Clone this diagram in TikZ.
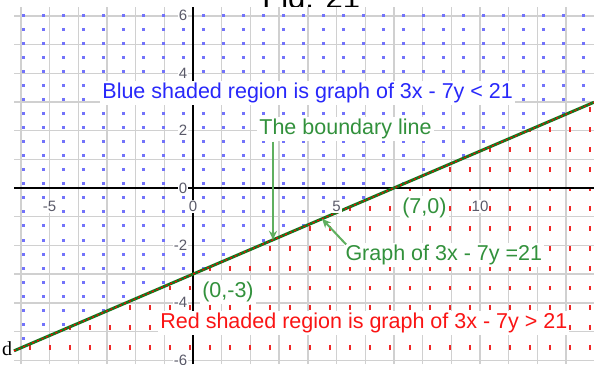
\documentclass[tikz,border=0pt]{standalone}
\usepackage{fontspec}
\setmainfont{Liberation Sans}
\setsansfont{Liberation Sans}
\newfontfamily\dserif{Liberation Serif}
\usepackage{tikz}
\usetikzlibrary{arrows.meta}

\begin{document}
\begin{tikzpicture}[x=14.35pt, y=14.35pt]
  % Colors
  \definecolor{gridcol}{RGB}{208,208,208}
  \definecolor{bluetxt}{RGB}{40,40,250}
  \definecolor{bluedot}{RGB}{115,115,250}
  \definecolor{redtxt}{RGB}{250,20,20}
  \definecolor{redtick}{RGB}{240,40,40}
  \definecolor{greentxt}{RGB}{50,145,60}
  \definecolor{greenarr}{RGB}{95,175,95}
  \definecolor{greenline}{RGB}{20,120,30}
  \definecolor{ticktxt}{RGB}{90,90,105}
  %
  % plot window and pattern steps
  \def\xl{-6.237}
  \def\xr{13.972}
  \def\yt{6.307}
  \def\yb{-6.132}
  \def\dx{0.6969}
  \def\dy{0.49}
  \def\ry{0.69}
  \pgfmathsetmacro{\ylo}{(3*\xl-21)/7}
  \pgfmathsetmacro{\yhi}{(3*\xr-21)/7}
  %
  \tikzset{
    gridln/.style={draw=gridcol, line width=0.7pt},
    axisln/.style={draw=black, line width=1pt},
    bdot/.style={fill=bluedot},
    rtick/.style={fill=redtick},
    lbl/.style={fill=white, inner sep=1pt, anchor=west,
                font=\fontsize{10.75}{12}\selectfont},
    ticklbl/.style={fill=white, inner sep=0.5pt, text=ticktxt,
                    font=\fontsize{7.5}{8}\selectfont},
    garrow/.style={draw=greenarr, line width=1pt, -{Stealth[length=4.5pt, width=4pt]}},
  }
  %
  \useasboundingbox (-6.725,-6.132) rectangle (13.972,6.551);
  \clip (-6.725,-6.132) rectangle (13.972,6.551);
  %
  %%% TITLE (mostly hidden by the plot) %%%
  \node[anchor=base west, inner sep=0pt, font=\fontsize{15.5}{18}\selectfont] (title) at (2.404, 6.272) {Fig. 21};
  %
  %%% PLOT WINDOW %%%
  \fill[white] (\xl,\yb) rectangle (\xr,\yt);
  %
  % Grid
  \foreach \gx in {-6,...,13} {
    \draw[gridln] (\gx,\yb) -- (\gx,\yt);
  }
  \foreach \gy in {-6,...,6} {
    \draw[gridln] (\xl,\gy) -- (\xr,\gy);
  }
  %
  % Blue dots above the line
  \begin{scope}
    \clip (\xl,\yt) -- (\xr,\yt) -- (\xr,\yhi) -- (\xl,\ylo) -- cycle;
    \foreach \i in {0,...,28} {
      \foreach \j in {0,...,25} {
        \fill[bdot] ({-5.923+\i*\dx},{6.028-\j*\dy}) ++(-0.75pt,-0.75pt) rectangle ++(1.5pt,1.5pt);
      }
    }
  \end{scope}
  %
  % Red ticks below the line
  \begin{scope}
    \clip (\xl,\yb) -- (\xr,\yb) -- (\xr,\yhi) -- (\xl,\ylo) -- cycle;
    \foreach \i in {1,...,29} {
      \foreach \j in {-5,...,9} {
        \fill[rtick] ({-6.376+\i*\dx},{-0.035-\j*\ry}) ++(-0.5pt,-1.2pt) rectangle ++(1pt,2.4pt);
      }
    }
  \end{scope}
  %
  % Axes
  \draw[axisln] (\xl,0) -- (\xr,0);
  \draw[axisln] (0,\yb) -- (0,\yt);
  %
  % Boundary line 3x - 7y = 21
  \coordinate (lstart) at (\xl,\ylo);
  \coordinate (lend) at (\xr,\yhi);
  \draw[greenline, line width=1.5pt] (lstart) -- (lend);
  \draw[red, line width=0.6pt, dash pattern=on 1pt off 1.5pt] (lstart) -- (lend);
  %
  % Tick labels
  \foreach \v in {-6,-4,...,6} {
    \node[ticklbl, anchor=east] (ty\v) at (-0.15,\v) {\v};
  }
  \foreach \v in {-5,0,5,10} {
    \node[ticklbl] (tx\v) at (\v,-0.64) {\v};
  }
  %
  %%% LABELS %%%
  \node[lbl, text=bluetxt] (bluelbl) at (-3.24, 3.31) {Blue shaded region is graph of 3x - 7y < 21};
  \node[lbl, text=greentxt] (bound) at (2.23, 2.05) {The boundary line};
  \node[lbl, text=greentxt] (pseven) at (7.21, -0.70) {(7,0)};
  \node[lbl, text=greentxt] (pthree) at (0.24, -3.62) {(0,-3)};
  \node[lbl, text=greentxt] (graph) at (5.23, -2.33) {Graph of 3x - 7y =21};
  \node[lbl, text=redtxt] (redlbl) at (-1.22, -4.70) {Red shaded region is graph of 3x - 7y > 21};
  %
  % Arrows to the line
  \coordinate (tipa) at (2.787, {(3*2.787-21)/7});
  \coordinate (tipb) at (4.495, {(3*4.495-21)/7});
  \draw[garrow] (bound.south -| tipa) -- (tipa);
  \draw[garrow] ([xshift=1.5pt, yshift=-1pt]graph.north west) -- (tipb);
  %
  % stray letter at the left edge
  \node[anchor=base, inner sep=0pt, font=\dserif\fontsize{10}{12}\selectfont] (dchar) at (-6.48,-5.82) {d};
\end{tikzpicture}
\end{document}
